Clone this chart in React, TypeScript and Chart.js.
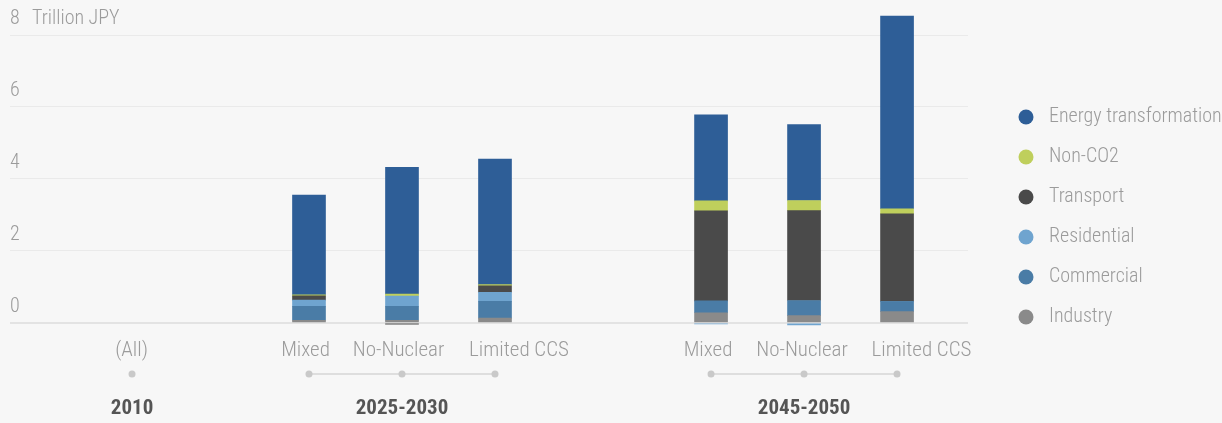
import React, { useEffect, useRef } from "react";
import { Chart, registerables } from "chart.js";

Chart.register(...registerables);

// ---------------- data ----------------
const scenarios = ["(All)", "Mixed", "No-Nuclear", "Limited CCS", "Mixed", "No-Nuclear", "Limited CCS"];
const periods = ["2010", "2025-2030", "2045-2050"];
const periodOfScenario = [0, 1, 1, 1, 2, 2, 2];

const industry = [null, 0.07, 0.07, 0.13, 0.28, 0.2, 0.31];
const commercial = [null, 0.39, 0.39, 0.47, 0.33, 0.42, 0.28];
const residential = [null, 0.17, 0.28, 0.25, -0.03, -0.06, 0];
const transport = [null, 0.12, -0.04, 0.18, 2.5, 2.5, 2.44];
const nonCO2 = [null, 0.03, 0.055, 0.03, 0.28, 0.28, 0.14];
const energyTransformation = [null, 2.77, 3.53, 3.49, 2.39, 2.11, 5.36];

const seriesNames = ["Industry", "Commercial", "Residential", "Transport", "Non-CO2", "Energy transformation"];
const seriesValues = [industry, commercial, residential, transport, nonCO2, energyTransformation];
const yTickValues = [0, 2, 4, 6, 8];
const yUnit = "Trillion JPY";

// ---------------- layout / style ----------------
// bar slots and (slightly different) label slots along the hidden linear x axis
const X_SLOTS = [0, 1.903, 2.903, 3.903, 6.226, 7.226, 8.226];
const X_LABEL_SLOTS = [-0.005, 1.866, 2.866, 4.161, 6.194, 7.204, 8.489];
const COLORS = ["#8a8a8a", "#4a7ca6", "#6fa4cf", "#4a4a4a", "#bfcf5c", "#2e5e97"];
const FONT = "'Roboto Condensed', 'Liberation Sans Narrow', 'DejaVu Sans Condensed', 'Arial Narrow', Roboto, sans-serif";
const FS = 20;
const XFS = 21;
const YEARFS = 21;
const TEXT = "#9b9b9b";
const BG = "#f7f7f7";

const decor = {
  id: "decor",
  beforeDraw(chart: any) {
    const ctx = chart.ctx;
    ctx.save();
    ctx.fillStyle = BG;
    ctx.fillRect(0, 0, chart.width, chart.height);
    ctx.restore();
  },
  afterDraw(chart: any) {
    const ctx = chart.ctx;
    const xs = chart.scales.x;
    const ys = chart.scales.y;
    ctx.save();
    // unit label next to top tick
    ctx.font = `300 ${FS}px ${FONT}`;
    ctx.fillStyle = TEXT;
    ctx.textBaseline = "middle";
    ctx.textAlign = "left";
    ctx.fillText(yUnit, 32, ys.getPixelForValue(yTickValues[yTickValues.length - 1]) - 16);

    // period dots, connectors and labels
    const dotY = 374;
    periods.forEach((p, g) => {
      const idx = periodOfScenario.map((pg, i) => (pg === g ? i : -1)).filter((i) => i >= 0);
      const px = idx.map((i) => xs.getPixelForValue(X_SLOTS[i]));
      if (px.length > 1) {
        ctx.strokeStyle = "#d6d6d6";
        ctx.lineWidth = 1.5;
        ctx.beginPath();
        ctx.moveTo(px[0], dotY);
        ctx.lineTo(px[px.length - 1], dotY);
        ctx.stroke();
      }
      ctx.fillStyle = "#c9c9c9";
      px.forEach((x) => {
        ctx.beginPath();
        ctx.arc(x, dotY, 3.5, 0, Math.PI * 2);
        ctx.fill();
      });
      ctx.fillStyle = "#555555";
      ctx.font = `bold ${YEARFS}px ${FONT}`;
      ctx.textAlign = "center";
      ctx.textBaseline = "middle";
      ctx.fillText(p, (px[0] + px[px.length - 1]) / 2, 409);
    });

    // legend
    const legendX = 1026;
    const legendTop = 117;
    const names = seriesNames.slice().reverse();
    const cols = COLORS.slice().reverse();
    names.forEach((n, i) => {
      const y = legendTop + i * 40;
      ctx.fillStyle = cols[i];
      ctx.beginPath();
      ctx.arc(legendX, y, 7.5, 0, Math.PI * 2);
      ctx.fill();
      ctx.fillStyle = TEXT;
      ctx.font = `300 ${FS}px ${FONT}`;
      ctx.textAlign = "left";
      ctx.textBaseline = "middle";
      ctx.fillText(n, 1049, y);
    });
    ctx.restore();
  },
};

export default function App() {
  const ref = useRef<HTMLCanvasElement | null>(null);
  useEffect(() => {
    document.body.style.margin = "0";
    document.body.style.background = BG;
    if (!ref.current) return;
    const chart = new Chart(ref.current, {
      type: "bar",
      data: {
        datasets: seriesNames.map((name, s) => ({
          label: name,
          data: seriesValues[s].map((v, i) => ({ x: X_SLOTS[i], y: v })),
          backgroundColor: COLORS[s],
          borderWidth: 0,
          barThickness: 33,
          clip: false as any,
        })),
      },
      options: {
        responsive: false,
        animation: false,
        layout: { padding: { left: 10, right: 254, top: 9, bottom: 53 } },
        plugins: { legend: { display: false }, tooltip: { enabled: false } },
        scales: {
          x: {
            type: "linear",
            stacked: true,
            min: -1.312,
            max: 8.989,
            offset: false,
            grid: { display: false, offset: false },
            border: { display: false },
            afterBuildTicks: (s: any) => {
              s.ticks = X_LABEL_SLOTS.map((v) => ({ value: v }));
            },
            ticks: {
              autoSkip: false,
              maxRotation: 0,
              padding: 7,
              color: TEXT,
              font: { family: FONT, size: XFS, weight: "300" as any },
              callback: (_v: any, i: number) => scenarios[i],
            },
          },
          y: {
            stacked: true,
            min: 0,
            max: 8.64,
            afterBuildTicks: (s: any) => {
              s.ticks = yTickValues.map((v) => ({ value: v }));
            },
            grid: {
              drawTicks: false,
              color: (c: any) => (c.tick && c.tick.value === 0 ? "#e3e3e3" : "#eaeaea"),
              lineWidth: (c: any) => (c.tick && c.tick.value === 0 ? 2 : 1),
            },
            border: { display: false },
            ticks: {
              mirror: true,
              labelOffset: -16,
              padding: 0,
              color: TEXT,
              font: { family: FONT, size: FS, weight: "300" as any },
            },
          },
        },
      },
      plugins: [decor],
    });
    return () => chart.destroy();
  }, []);
  return (
    <div style={{ width: 1222, height: 423, background: BG }}>
      <canvas ref={ref} width={1222} height={423} />
    </div>
  );
}
